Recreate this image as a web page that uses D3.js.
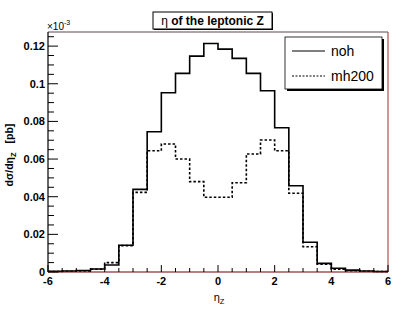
<!DOCTYPE html>
<html>
<head>
<meta charset="utf-8">
<script src="https://cdn.jsdelivr.net/npm/d3@7"></script>
<style>
  body { margin: 0; background: #fff; }
  svg { display: block; font-family: "Liberation Sans", Arial, sans-serif; }
  text { fill: #000; }
</style>
</head>
<body>
<div id="chart"></div>
<script>
// bin edges (eta_Z), 24 bins of 0.5
var binEdges = [-6, -5.5, -5, -4.5, -4, -3.5, -3, -2.5, -2, -1.5, -1, -0.5, 0,
  0.5, 1, 1.5, 2, 2.5, 3, 3.5, 4, 4.5, 5, 5.5, 6]
// dsigma/deta_Z, in units of 1e-3 pb
var noh = [0.0004, 0.0005, 0.0008, 0.0016, 0.0037, 0.0142, 0.0439, 0.0745,
  0.0952, 0.1055, 0.1147, 0.1214, 0.1184, 0.1135, 0.1055, 0.0963,
  0.0766, 0.0458, 0.0158, 0.0046, 0.0020, 0.0010, 0.0005, 0.0003]
var mh200 = [0.0003, 0.0004, 0.0006, 0.0015, 0.0050, 0.0140, 0.0423, 0.0644,
  0.0680, 0.0600, 0.0480, 0.0397, 0.0397, 0.0474, 0.0627, 0.0701,
  0.0644, 0.0418, 0.0134, 0.0041, 0.0015, 0.0007, 0.0004, 0.0003]
var xTicks = [-6, -4, -2, 0, 2, 4, 6]
var yTicks = [0, 0.02, 0.04, 0.06, 0.08, 0.1, 0.12]
var seriesNames = ['noh', 'mh200']

var W = 399, H = 311
var m = { left: 48, right: 11, top: 32, bottom: 39 }

var svg = d3.select('#chart').append('svg')
  .attr('width', W)
  .attr('height', H)

var x = d3.scaleLinear().domain([-6, 6]).range([m.left, W - m.right])
var y = d3.scaleLinear().domain([0, 0.1275]).range([H - m.bottom, m.top])

// frame: top darkish grey, right reddish
svg.append('line')
  .attr('x1', x(-6)).attr('x2', x(6))
  .attr('y1', y(0.1275)).attr('y2', y(0.1275))
  .attr('stroke', '#5a4a4a').attr('stroke-width', 1)
svg.append('line')
  .attr('x1', x(6)).attr('x2', x(6))
  .attr('y1', y(0.1275)).attr('y2', y(0))
  .attr('stroke', '#9a2a2a').attr('stroke-width', 1)

// histograms as steps
function stepPath (vals) {
  var pts = []
  vals.forEach(function (v, i) {
    pts.push([x(binEdges[i]), y(v)])
    pts.push([x(binEdges[i + 1]), y(v)])
  })
  return d3.line()(pts)
}

svg.append('path')
  .attr('d', stepPath(noh))
  .attr('fill', 'none')
  .attr('stroke', '#000')
  .attr('stroke-width', 1.6)

svg.append('path')
  .attr('d', stepPath(mh200))
  .attr('fill', 'none')
  .attr('stroke', '#000')
  .attr('stroke-width', 1.6)
  .attr('stroke-dasharray', '2.5,2')

// x axis (ticks inside, upward)
var xAxis = svg.append('g').attr('transform', 'translate(0,' + y(0) + ')')
xAxis.append('line')
  .attr('x1', x(-6)).attr('x2', x(6))
  .attr('stroke', '#6b0000').attr('stroke-width', 1.2)
var xMinor = d3.range(-6, 6.01, 0.5)
xAxis.selectAll('line.minor').data(xMinor).enter().append('line')
  .attr('class', 'minor')
  .attr('x1', d => x(d)).attr('x2', d => x(d))
  .attr('y1', 0)
  .attr('y2', d => (Math.abs(d % 2) < 1e-9 ? -7 : -4))
  .attr('stroke', '#000').attr('stroke-width', 1)
xAxis.selectAll('text').data(xTicks).enter().append('text')
  .attr('x', d => x(d))
  .attr('y', 13)
  .attr('text-anchor', 'middle')
  .attr('font-size', 11)
  .attr('font-weight', 'bold')
  .text(d => d)

// y axis
var yAxis = svg.append('g').attr('transform', 'translate(' + x(-6) + ',0)')
yAxis.append('line')
  .attr('y1', y(0)).attr('y2', y(0.1275))
  .attr('stroke', '#000').attr('stroke-width', 1.2)
var yMinor = d3.range(0, 0.1276, 0.005)
yAxis.selectAll('line.minor').data(yMinor).enter().append('line')
  .attr('class', 'minor')
  .attr('y1', d => y(d)).attr('y2', d => y(d))
  .attr('x1', 0)
  .attr('x2', (d, i) => (i % 4 === 0 ? 10 : 6))
  .attr('stroke', '#000').attr('stroke-width', 1)
yAxis.selectAll('text').data(yTicks).enter().append('text')
  .attr('x', -3)
  .attr('y', d => y(d) + 4)
  .attr('text-anchor', 'end')
  .attr('font-size', 11)
  .attr('font-weight', 'bold')
  .text(d => d)

// x10^-3 exponent
var expo = svg.append('text')
  .attr('x', 47).attr('y', 29.5)
  .attr('font-size', 10)
expo.append('tspan').text('\u00d710')
expo.append('tspan').attr('font-size', 7).attr('dy', -5).text('-3')

// axis titles
var yt = svg.append('text')
  .attr('transform', 'translate(13,155) rotate(-90)')
  .attr('text-anchor', 'middle')
  .attr('font-size', 10.5)
  .attr('font-weight', 'bold')
yt.append('tspan').text('d\u03c3/d\u03b7')
yt.append('tspan').attr('font-size', 7.5).attr('dy', 3).text('Z')
yt.append('tspan').attr('dy', -3).attr('dx', 9).text('[pb]')

var xt = svg.append('text')
  .attr('x', 219).attr('y', 301)
  .attr('text-anchor', 'middle')
  .attr('font-size', 11)
xt.append('tspan').text('\u03b7')
xt.append('tspan').attr('font-size', 7.5).attr('dy', 3).text('Z')

// title box with shadow
svg.append('rect')
  .attr('x', 154).attr('y', 13).attr('width', 119).attr('height', 17)
  .attr('fill', '#000')
svg.append('rect')
  .attr('x', 153).attr('y', 12).attr('width', 119).attr('height', 17)
  .attr('fill', '#fff').attr('stroke', '#000').attr('stroke-width', 1)
var tt = svg.append('text')
  .attr('x', 212.5).attr('y', 25)
  .attr('text-anchor', 'middle')
  .attr('font-size', 12)
tt.append('tspan').text('\u03b7 ')
tt.append('tspan').attr('font-weight', 'bold').text('of the leptonic Z')

// legend with shadow
var lg = svg.append('g')
lg.append('rect')
  .attr('x', 287).attr('y', 39).attr('width', 97).attr('height', 52)
  .attr('fill', '#000')
lg.append('rect')
  .attr('x', 285).attr('y', 37).attr('width', 97).attr('height', 52)
  .attr('fill', '#fff').attr('stroke', '#000').attr('stroke-width', 0.8)
var legRows = lg.selectAll('g.row').data(seriesNames).enter().append('g')
  .attr('class', 'row')
  .attr('transform', (d, i) => 'translate(0,' + (51 + i * 25) + ')')
legRows.append('line')
  .attr('x1', 292).attr('x2', 325)
  .attr('stroke', '#000').attr('stroke-width', 1.2)
  .attr('stroke-dasharray', (d, i) => (i === 1 ? '2,1.5' : null))
legRows.append('text')
  .attr('x', 331).attr('y', 5)
  .attr('font-size', 14)
  .text(d => d)
</script>
</body>
</html>
